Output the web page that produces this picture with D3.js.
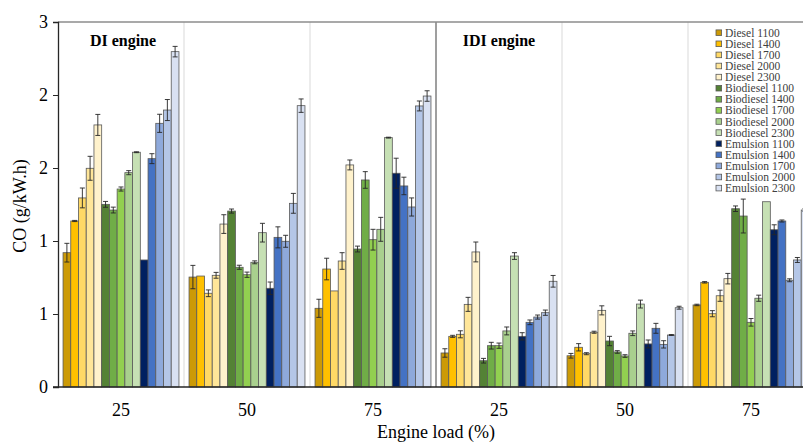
<!DOCTYPE html>
<html><head><meta charset="utf-8">
<script src="https://cdn.jsdelivr.net/npm/d3@7/dist/d3.min.js"></script>
<style>body{margin:0;background:#fff}svg{display:block}</style>
</head><body><svg id="c" width="803" height="442"></svg>
<script>
const groups = ["DI-25","DI-50","DI-75","IDI-25","IDI-50","IDI-75"];
const groupLabels = ["25","50","75","25","50","75"];
const series = ["Diesel 1100","Diesel 1400","Diesel 1700","Diesel 2000","Diesel 2300",
  "Biodiesel 1100","Biodiesel 1400","Biodiesel 1700","Biodiesel 2000","Biodiesel 2300",
  "Emulsion 1100","Emulsion 1400","Emulsion 1700","Emulsion 2000","Emulsion 2300"];
const colors = ["#CC9A06","#FFC000","#FFD966","#FFE699","#FFF2CC",
  "#548235","#70AD47","#92D050","#A9D08E","#C6E0B4",
  "#002060","#4472C4","#8EA9DB","#B4C6E7","#D9E1F2"];
// values per group (rows) for each series (columns)
const values = [
  [0.920,1.137,1.295,1.498,1.795, 1.251,1.212,1.356,1.468,1.608, 0.870,1.564,1.806,1.897,2.297],
  [0.753,0.760,0.642,0.765,1.116, 1.205,0.820,0.769,0.854,1.057, 0.676,1.025,0.998,1.258,1.927],
  [0.539,0.808,0.658,0.863,1.521, 0.945,1.418,1.009,1.080,1.708, 1.464,1.377,1.233,1.925,1.993],
  [0.233,0.347,0.361,0.566,0.925, 0.180,0.283,0.283,0.384,0.897, 0.347,0.443,0.479,0.509,0.724],
  [0.214,0.272,0.228,0.375,0.525, 0.315,0.240,0.212,0.368,0.568, 0.295,0.402,0.292,0.356,0.543],
  [0.562,0.717,0.502,0.625,0.742, 1.221,1.171,0.443,0.608,1.269, 1.077,1.137,0.731,0.870,1.212]
];
const errors = [
  [0.064,0.004,0.068,0.082,0.072, 0.020,0.020,0.014,0.014,0.003, 0.000,0.034,0.062,0.072,0.036],
  [0.080,0.000,0.023,0.020,0.064, 0.014,0.014,0.018,0.010,0.064, 0.043,0.072,0.041,0.068,0.046],
  [0.062,0.074,0.000,0.057,0.034, 0.020,0.057,0.071,0.082,0.003, 0.103,0.060,0.062,0.034,0.036],
  [0.029,0.007,0.024,0.048,0.068, 0.016,0.023,0.018,0.027,0.023, 0.025,0.016,0.014,0.018,0.040],
  [0.016,0.025,0.007,0.007,0.031, 0.032,0.009,0.009,0.016,0.027, 0.027,0.034,0.025,0.003,0.010],
  [0.005,0.005,0.021,0.038,0.036, 0.019,0.116,0.026,0.021,0.000, 0.034,0.007,0.010,0.017,0.010]
];
const yTicks = [0,0.5,1,1.5,2,2.5];
const panelLabels = ["DI engine","IDI engine"];

const svg = d3.select("#c");
const L = 58, T = 22, B = 387, R = 814;
const x0 = d3.scaleBand().domain(groups).range([L, R]).paddingInner(0.08).paddingOuter(0.04);
const x1 = d3.scaleBand().domain(series).range([0, x0.bandwidth()]);
const y = d3.scaleLinear().domain([0, 2.5]).range([B, T]);
const step = x0.step();
const serif = "'Liberation Serif','Times New Roman',serif";

// group separators
const bounds = d3.range(1, groups.length).map(i => L + i * step);
svg.append("g").selectAll("line").data(bounds).join("line")
  .attr("x1", d => d).attr("x2", d => d).attr("y1", T).attr("y2", B)
  .attr("stroke", (d, i) => i === 2 ? "#7f7f7f" : "#d9d9d9")
  .attr("stroke-width", (d, i) => i === 2 ? 1.5 : 1);
// top border
svg.append("line").attr("x1", L).attr("x2", 803).attr("y1", T).attr("y2", T)
  .attr("stroke", "#8c8c8c").attr("stroke-width", 1.5);

// bars
const gG = svg.append("g").selectAll("g").data(groups).join("g")
  .attr("transform", d => `translate(${x0(d)},0)`);
gG.each(function(g, gi) {
  const sel = d3.select(this);
  const rows = series.map((s, si) => ({s, si, v: values[gi][si], e: errors[gi][si]}));
  sel.selectAll("rect").data(rows).join("rect")
    .attr("x", d => x1(d.s)).attr("width", x1.bandwidth())
    .attr("y", d => y(d.v)).attr("height", d => y(0) - y(d.v))
    .attr("fill", d => colors[d.si]).attr("stroke", "#595959").attr("stroke-width", 0.8);
  const eb = sel.selectAll("g.eb").data(rows.filter(d => d.e > 0.002)).join("g").attr("class", "eb");
  const cx = d => x1(d.s) + x1.bandwidth() / 2;
  eb.append("line").attr("x1", cx).attr("x2", cx)
    .attr("y1", d => y(d.v + d.e)).attr("y2", d => y(d.v - d.e));
  eb.append("line").attr("x1", d => cx(d) - 2.5).attr("x2", d => cx(d) + 2.5)
    .attr("y1", d => y(d.v + d.e)).attr("y2", d => y(d.v + d.e));
  eb.append("line").attr("x1", d => cx(d) - 2.5).attr("x2", d => cx(d) + 2.5)
    .attr("y1", d => y(d.v - d.e)).attr("y2", d => y(d.v - d.e));
  eb.selectAll("line").attr("stroke", "#262626").attr("stroke-width", 0.9);
});

// axes
const yAxis = d3.axisLeft(y).tickValues(yTicks).tickSize(5).tickFormat(d => Math.round(d));
const ya = svg.append("g").attr("transform", `translate(${L},0)`).call(yAxis);
ya.select(".domain").attr("stroke", "#262626").attr("stroke-width", 1.3);
ya.selectAll(".tick line").attr("stroke", "#262626");
ya.selectAll(".tick text").attr("font-family", serif).attr("font-size", 18).attr("fill", "#000").attr("x", -10);
svg.append("line").attr("x1", L - 5).attr("x2", 803).attr("y1", B).attr("y2", B)
  .attr("stroke", "#262626").attr("stroke-width", 1.3);

svg.append("g").selectAll("text").data(groups).join("text")
  .attr("x", d => x0(d) + x0.bandwidth() / 2).attr("y", 416)
  .attr("text-anchor", "middle").attr("font-family", serif).attr("font-size", 18)
  .text((d, i) => groupLabels[i]);

svg.append("text").attr("x", 436).attr("y", 438).attr("text-anchor", "middle")
  .attr("font-family", serif).attr("font-size", 18).text("Engine load (%)");
svg.append("text").attr("transform", "translate(26,206) rotate(-90)").attr("text-anchor", "middle")
  .attr("font-family", serif).attr("font-size", 18).text("CO (g/kW.h)");

// panel labels
svg.append("text").attr("x", x0(groups[0]) + x0.bandwidth() / 2 + 2).attr("y", 46).attr("text-anchor", "middle")
  .attr("font-family", serif).attr("font-size", 16).attr("font-weight", "bold").text(panelLabels[0]);
svg.append("text").attr("x", x0(groups[3]) + x0.bandwidth() / 2).attr("y", 46).attr("text-anchor", "middle")
  .attr("font-family", serif).attr("font-size", 16).attr("font-weight", "bold").text(panelLabels[1]);

// legend
const lg = svg.append("g").selectAll("g").data(series).join("g")
  .attr("transform", (d, i) => `translate(716,${32.7 + i * 11.1})`);
lg.append("rect").attr("x", 0).attr("y", -2.8).attr("width", 5.6).attr("height", 5.6)
  .attr("fill", (d, i) => colors[i]).attr("stroke", "#595959").attr("stroke-width", 0.8);
lg.append("text").attr("x", 9).attr("y", 4).attr("font-family", serif).attr("font-size", 11.5)
  .attr("fill", "#404040").text(d => d);
</script></body></html>
